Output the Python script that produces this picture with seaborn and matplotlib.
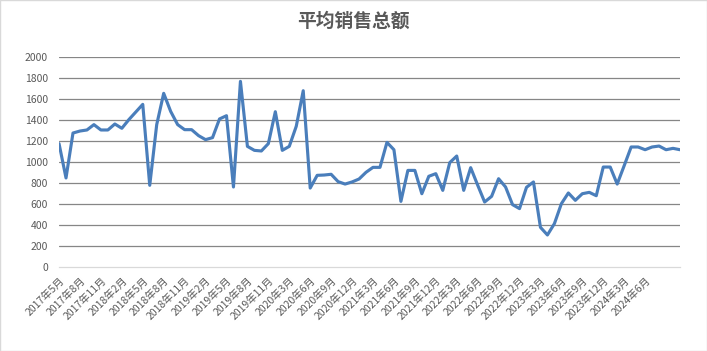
import matplotlib
matplotlib.use("Agg")
import matplotlib.pyplot as plt
import seaborn as sns
import pandas as pd
from matplotlib.patches import Rectangle

# monthly average sales, 2017-05 .. 2024-11 (Jan/Feb 2020 reported together)
sales = [
    1175, 848, 1276, 1295, 1305, 1356, 1305, 1305, 1362, 1321,
    1403, 1476, 1549, 778, 1356, 1654, 1482, 1356, 1308, 1308,
    1251, 1213, 1232, 1410, 1441, 762, 1768, 1149, 1111, 1105,
    1175, 1479, 1111, 1149, 1340, 1679, 752, 873, 876, 883,
    813, 790, 810, 838, 902, 949, 949, 1187, 1117, 625,
    920, 920, 698, 864, 889, 730, 994, 1057, 730, 946,
    780, 619, 673, 841, 762, 594, 556, 759, 810, 378,
    305, 413, 603, 705, 635, 698, 711, 679, 952, 952,
    790, 965, 1143, 1143, 1117, 1143, 1152, 1117, 1130, 1117,
]

# every third category gets a label
tick_labels = [
    "2017年5月", "2017年8月", "2017年11月", "2018年2月", "2018年5月",
    "2018年8月", "2018年11月", "2019年2月", "2019年5月", "2019年8月",
    "2019年11月", "2020年3月", "2020年6月", "2020年9月", "2020年12月",
    "2021年3月", "2021年6月", "2021年9月", "2021年12月", "2022年3月",
    "2022年6月", "2022年9月", "2022年12月", "2023年3月", "2023年6月",
    "2023年9月", "2023年12月", "2024年3月", "2024年6月",
]

df = pd.DataFrame({"idx": range(len(sales)), "sales": sales})

sns.set_theme(style="white")
plt.rcParams["font.family"] = ["Noto Sans CJK SC", "DejaVu Sans"]

fig = plt.figure(figsize=(7.07, 3.51), dpi=100)
ax = fig.add_axes([0.0835, 0.2393, 0.8783, 0.5983])

sns.lineplot(data=df, x="idx", y="sales", ax=ax, color="#4a7ebb", linewidth=2.25)

ax.set_xlim(0, len(sales) - 1)
ax.set_ylim(0, 2000)
ax.set_yticks(range(0, 2001, 200))
ax.set_xticks(range(0, len(sales), 3)[:len(tick_labels)])
ax.set_xticklabels(tick_labels, rotation=45, ha="right", rotation_mode="anchor")
ax.tick_params(axis="x", length=0, pad=6, labelsize=7.5, colors="#595959")
ax.tick_params(axis="y", length=0, pad=8, labelsize=7.5, colors="#595959")
ax.set_xlabel("")
ax.set_ylabel("")

ax.yaxis.grid(True, color="#868686", linewidth=0.9)
ax.get_ygridlines()[0].set_visible(False)
for side in ["left", "right", "top"]:
    ax.spines[side].set_visible(False)
ax.spines["bottom"].set_color("#d9d9d9")
ax.spines["bottom"].set_linewidth(0.9)

fig.text(0.5, 0.94, "平均销售总额", ha="center", va="center",
         fontsize=13.5, fontweight="bold", color="#595959")

fig.patches.append(Rectangle((0.0007, 0.0014), 0.9986, 0.9972, transform=fig.transFigure,
                             fill=False, edgecolor="#d9d9d9", linewidth=1))

fig.savefig("out.png", dpi=100, facecolor="white")
